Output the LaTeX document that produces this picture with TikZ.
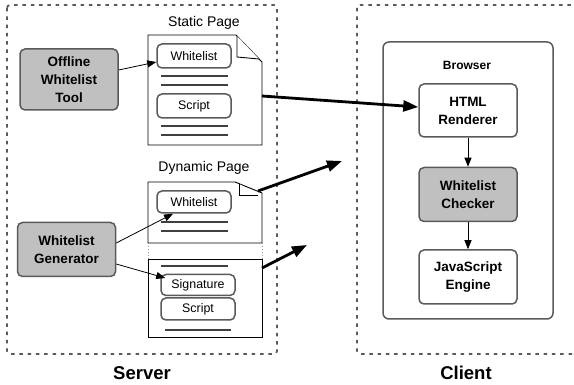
\documentclass[tikz,border=0pt]{standalone}
\usepackage{fontspec}
\setmainfont{Liberation Sans}
\usetikzlibrary{arrows.meta,positioning}
\definecolor{boxgray}{HTML}{C0C0C0}
\definecolor{edgegray}{HTML}{5A5A5A}

\begin{document}
\begin{tikzpicture}[x=1pt,y=-1pt,
                    zone/.style={draw=edgegray,line width=1.7pt,dash pattern=on 3.5pt off 4.8pt,rounded corners=3pt},
                    actor/.style={draw=edgegray,line width=1.5pt,rounded corners=5pt,fill=white,align=center,
                                  font=\fontsize{13.5}{18}\selectfont\bfseries,minimum width=98pt,minimum height=54pt,inner sep=0pt},
                    tool/.style={actor,fill=boxgray},
                    part/.style={draw=edgegray,line width=1.5pt,rounded corners=5pt,fill=white,minimum width=74pt,
                                 minimum height=22pt,inner sep=0pt,font=\fontsize{12.4}{14}\selectfont},
                    sheet/.style={draw=black,line width=0.9pt,fill=white},
                    txtline/.style={draw=black!75,line width=1.2pt},
                    smallarrow/.style={-{Triangle[length=9pt,width=7pt]},line width=0.8pt},
                    bigarrow/.style={-{Triangle[length=15pt,width=11pt]},line width=2.8pt}
                ]
                \useasboundingbox (0,0) rectangle (574,385);
                \clip (0,0) rectangle (574,385);

                % server and client areas
                \draw[zone] (7,5) rectangle (277,354);
                \draw[zone] (357,5) rectangle (600,354);
                \node[font=\fontsize{18.5}{20}\selectfont\bfseries] (srv) at (142,373) {Server};
                \node[font=\fontsize{18.5}{20}\selectfont\bfseries] (cli) at (466,373) {Client};

                % server side tools
                \node[tool,minimum height=61pt] (offline) at (69,79.5) {Offline\\Whitelist\\Tool};
                \node[tool] (gen) at (66.5,249.5) {Whitelist\\Generator};

                % static page
                \node[font=\fontsize{14}{16}\selectfont] (stlbl) at (204,23) {Static Page};
                \draw[sheet] (148,35) -- (236,35) -- (262,62) -- (262,145) -- (148,145) -- cycle;
                \draw[sheet] (237,36) -- (237,57) -- (259,59);
                \node[part,minimum height=24pt] (swl) at (194,56) {Whitelist};
                \node[part,minimum height=24pt] (sscr) at (194,106) {Script};
                \foreach \y in {76,85,126,135}
                    \draw[txtline] (161,\y) -- (228,\y);

                % dynamic page
                \node[font=\fontsize{14}{16}\selectfont] (dylbl) at (204,168) {Dynamic Page};
                \draw[sheet] (148,182) -- (235,182) -- (262,193) -- (262,243) -- (148,243) -- cycle;
                \draw[sheet] (239,184) -- (239,195) -- (258,195);
                \draw[edgegray!60,dotted,line width=1pt] (148,243) -- (148,259) (262,243) -- (262,259);
                \draw[sheet] (148,259) rectangle (262,337);
                \node[part] (dwl) at (194,202) {Whitelist};
                \foreach \y in {222,231}
                    \draw[txtline] (161,\y) -- (228,\y);
                \draw[txtline] (161,266) -- (228,266);
                \node[part,minimum height=21pt] (sig) at (198,285) {Signature};
                \node[part,minimum height=22pt] (dscr) at (198,309) {Script};
                \draw[txtline] (165,330) -- (231,330);

                % browser
                \node[draw=edgegray,line width=1.5pt,rounded corners=6pt,minimum width=170pt,minimum height=277pt] (browser) at (468,180.5) {};
                \node[font=\fontsize{12}{14}\selectfont\bfseries] (brlbl) at (467,65) {Browser};
                \node[actor,minimum height=53pt] (render) at (468,110.5) {HTML\\Renderer};
                \node[tool,below=29pt of render] (check) {Whitelist\\Checker};
                \node[actor,below=27pt of check] (engine) {JavaScript\\Engine};

                % connectors
                \draw[smallarrow] (render.south) -- (check.north);
                \draw[smallarrow] (check.south) -- (engine.north);
                \draw[smallarrow] ([shift={(0,-9.5)}]offline.east) -- ([shift={(0,6)}]swl.west);
                \draw[smallarrow] ([shift={(0,-6.5)}]gen.east) -- ([shift={(-21,0)}]dwl.south);
                \draw[smallarrow] ([shift={(0,14.5)}]gen.east) -- ([shift={(5,-7)}]sig.west);

                \coordinate (sout) at (262,96);
                \coordinate (dout) at (258,191);
                \coordinate (dend) at (342,161);
                \coordinate (lout) at (262,268);
                \coordinate (lend) at (307,245);
                \draw[bigarrow] (sout) -- ([shift={(0,-3.5)}]render.west);
                \draw[bigarrow] (dout) -- (dend);
                \draw[bigarrow] (lout) -- (lend);
\end{tikzpicture}
\end{document}
